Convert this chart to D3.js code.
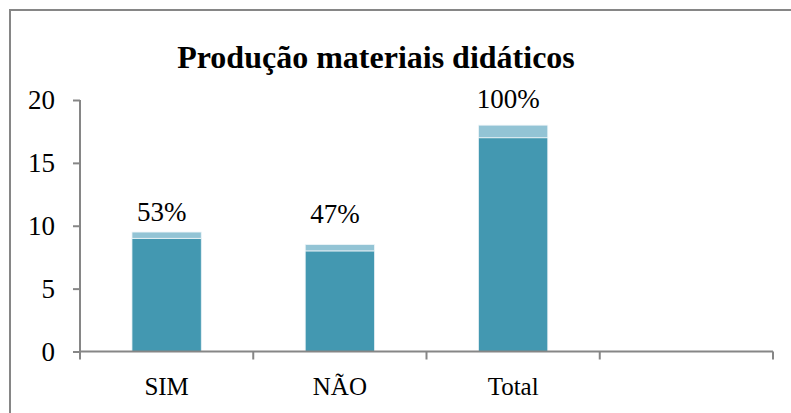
<!DOCTYPE html>
<html>
<head>
<meta charset="utf-8">
<script src="https://cdn.jsdelivr.net/npm/d3@7"></script>
<style>
  html, body { margin: 0; padding: 0; background: #fff; }
  svg { display: block; }
  text { font-family: "Liberation Serif", "Times New Roman", serif; fill: #000; }
</style>
</head>
<body>
<svg id="chart" width="791" height="413"></svg>
<script>
// ---- data ----
const title = "Produção materiais didáticos";
const categories = ["SIM", "NÃO", "Total", ""];
const baseValues = [9, 8, 17];
const topValues = [0.5, 0.5, 1];
const pctLabels = ["53%", "47%", "100%"];
const labelAt = [10.4, 10.2, 19.4];
const yTicks = [0, 5, 10, 15, 20];

// ---- layout ----
const svg = d3.select("#chart");
const W = 791, H = 413;
const mLeft = 80, mRight = 773, mTop = 100, mBottom = 351.5;

// outer frame
svg.append("path")
  .attr("d", `M10,${H + 2} L10,10 L${W + 2},10`)
  .attr("fill", "none").attr("stroke", "#868686").attr("stroke-width", 2);

const x = d3.scaleBand().domain(categories).range([mLeft, mRight])
  .paddingInner(0.6).paddingOuter(0.3);
const y = d3.scaleLinear().domain([0, 20]).range([mBottom, mTop]);

const darkColor = "#4398b1";
const lightColor = "#93c4d5";

const data = categories.slice(0, 3).map((c, i) => ({
  cat: c, base: baseValues[i], extra: topValues[i], label: pctLabels[i], at: labelAt[i]
}));

// bars
const g = svg.append("g");
g.selectAll("rect.base").data(data).join("rect")
  .attr("class", "base")
  .attr("x", d => x(d.cat)).attr("width", x.bandwidth())
  .attr("y", d => y(d.base)).attr("height", d => y(0) - y(d.base))
  .attr("fill", darkColor).attr("stroke", "#e8f1f5").attr("stroke-width", 0.8);
g.selectAll("rect.extra").data(data).join("rect")
  .attr("class", "extra")
  .attr("x", d => x(d.cat)).attr("width", x.bandwidth())
  .attr("y", d => y(d.base + d.extra)).attr("height", d => y(d.base) - y(d.base + d.extra))
  .attr("fill", lightColor).attr("stroke", "#eef5f8").attr("stroke-width", 0.8);

// y axis
const yAxis = svg.append("g")
  .attr("transform", `translate(${mLeft},0)`)
  .call(d3.axisLeft(y).tickValues(yTicks).tickSize(7).tickPadding(18));
yAxis.select(".domain").attr("stroke", "#868686").attr("stroke-width", 2)
  .attr("d", `M0,${y(20)}V${y(0)}`);
yAxis.selectAll(".tick line").attr("stroke", "#868686").attr("stroke-width", 2);
yAxis.selectAll(".tick text").attr("font-size", 27)
  .attr("font-family", "Liberation Serif").attr("fill", "#000");

// x axis
const xAxis = svg.append("g")
  .attr("transform", `translate(0,${y(0)})`)
  .call(d3.axisBottom(x).tickSize(0).tickPadding(26));
xAxis.select(".domain").attr("stroke", "#868686").attr("stroke-width", 2)
  .attr("d", `M${mLeft},0H${mRight}`);
xAxis.selectAll(".tick text").attr("font-size", 25)
  .attr("font-family", "Liberation Serif").attr("fill", "#000");
// boundary tick marks
const bounds = categories.map((c, i) => mLeft + i * x.step()).concat([mRight]);
xAxis.selectAll("line.bound").data(bounds).join("line")
  .attr("class", "bound")
  .attr("x1", d => d).attr("x2", d => d).attr("y1", 0).attr("y2", 8)
  .attr("stroke", "#868686").attr("stroke-width", 2);

// percentage labels
svg.selectAll("text.pct").data(data).join("text")
  .attr("class", "pct")
  .attr("x", d => x(d.cat) + x.bandwidth() / 2 - 5)
  .attr("y", d => y(d.at))
  .attr("text-anchor", "middle")
  .attr("font-size", 27)
  .text(d => d.label);

// title
svg.append("text")
  .attr("x", 376).attr("y", 68)
  .attr("text-anchor", "middle")
  .attr("font-size", 32).attr("font-weight", "bold")
  .text(title);
</script>
</body>
</html>
